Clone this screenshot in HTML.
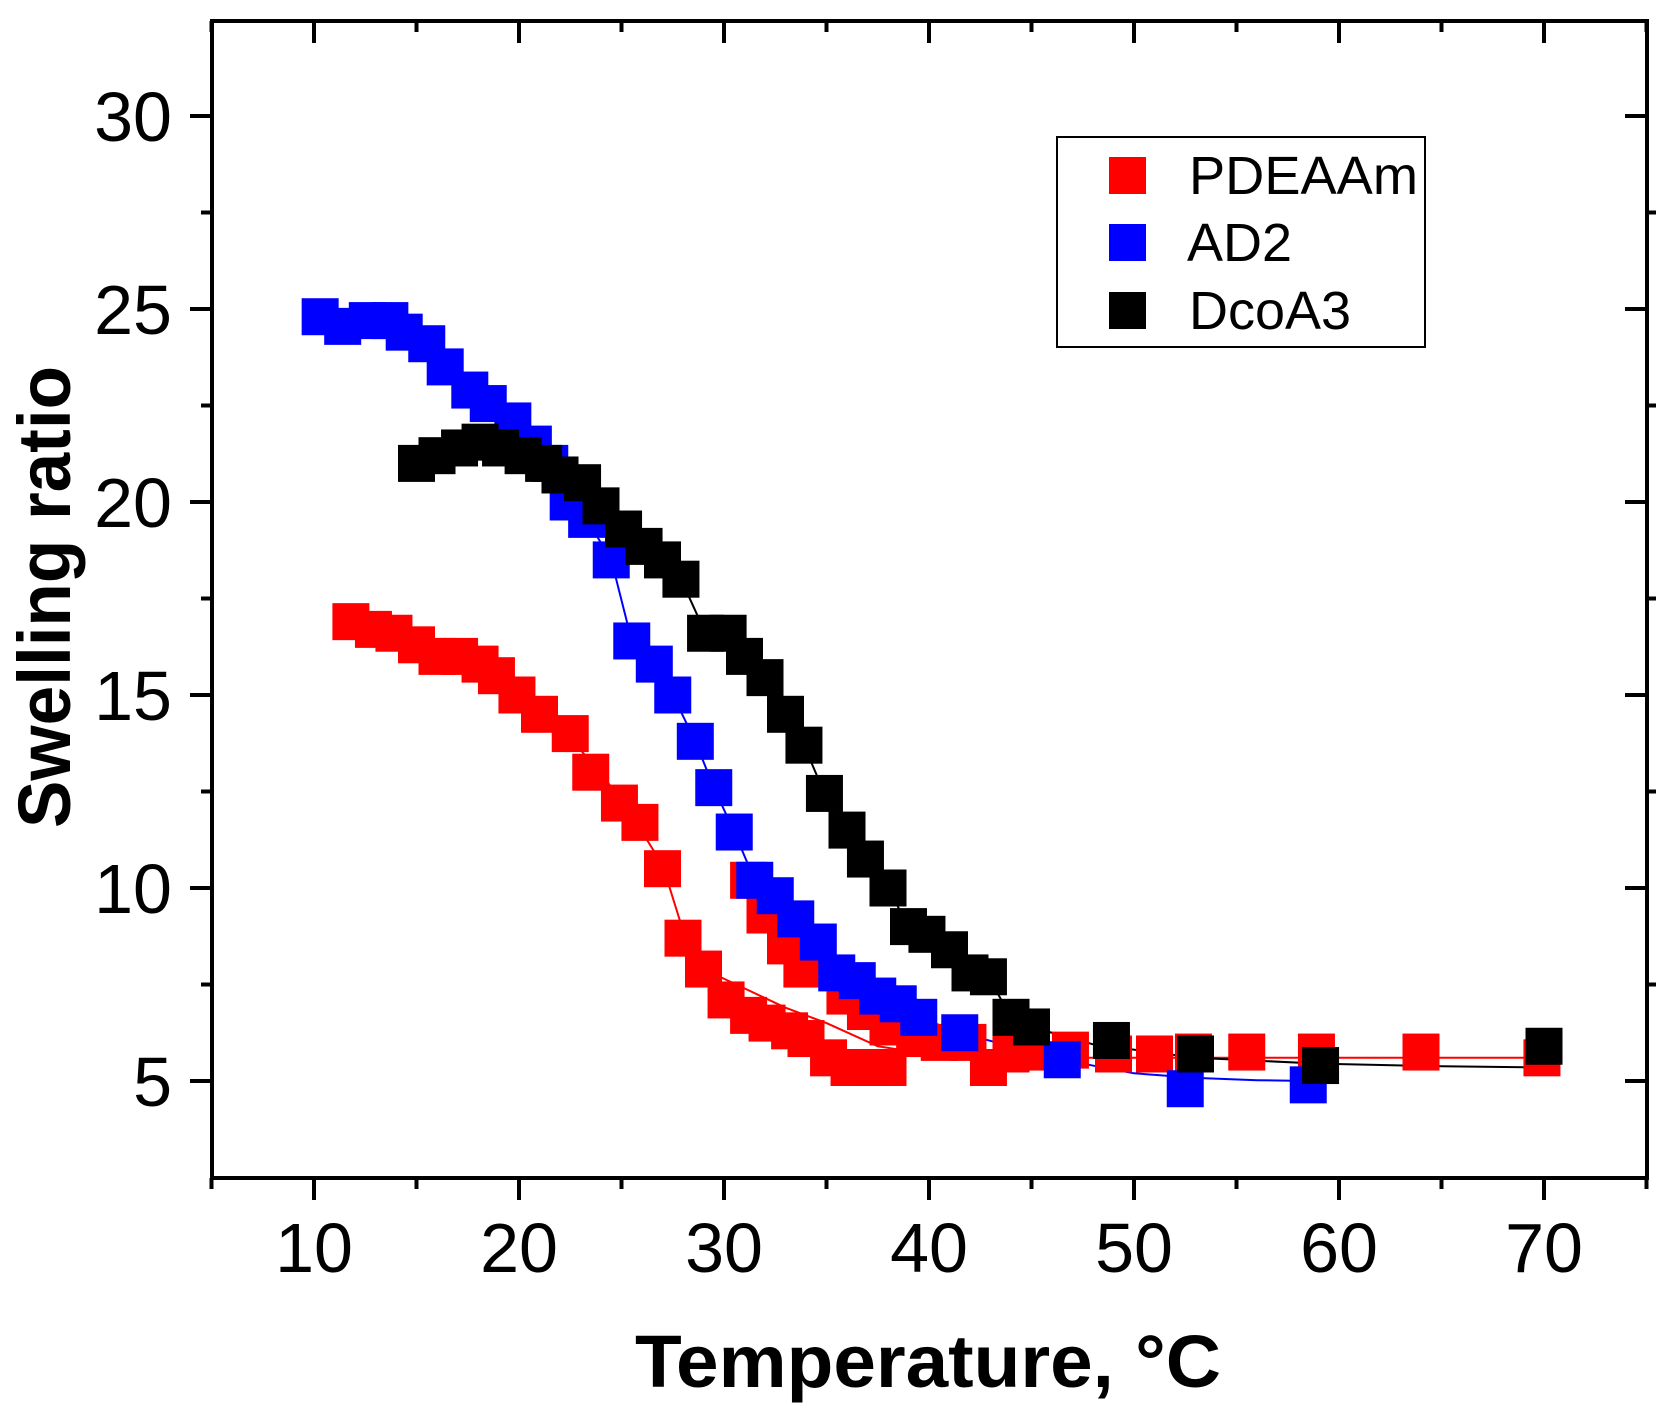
<!DOCTYPE html>
<html><head><meta charset="utf-8"><style>
html,body{margin:0;padding:0;background:#fff;}
svg{display:block;font-family:"Liberation Sans",Arial,sans-serif;}
</style></head><body>
<svg id="chart" width="1677" height="1419" viewBox="0 0 1677 1419" xmlns="http://www.w3.org/2000/svg">
<rect width="1677" height="1419" fill="#fff"/>
<g id="lines"></g>
<g id="marks"></g>
<g id="axes"></g>
<text x="0" y="0" transform="translate(70,597) rotate(-90)" text-anchor="middle" font-size="74" font-weight="bold" textLength="462" lengthAdjust="spacingAndGlyphs">Swelling ratio</text>
<text x="928" y="1387" text-anchor="middle" font-size="74" font-weight="bold" textLength="586" lengthAdjust="spacingAndGlyphs">Temperature, °C</text>
<g>
<rect x="1057" y="137" width="368" height="210" fill="#fff" stroke="#000" stroke-width="2"/>
<rect x="1109" y="157" width="37" height="37" fill="#ff0000"/>
<text x="1189" y="194" font-size="54" textLength="229" lengthAdjust="spacingAndGlyphs">PDEAAm</text>
<rect x="1109" y="224" width="37" height="37" fill="#0000ff"/>
<text x="1187" y="261" font-size="54">AD2</text>
<rect x="1109" y="292" width="37" height="37" fill="#000"/>
<text x="1189" y="329" font-size="54">DcoA3</text>
</g>
</svg>
<script>
const xTicks = [10, 20, 30, 40, 50, 60, 70];
const yTicks = [5, 10, 15, 20, 25, 30];
const pdeaamAT = [11.8,12.9,13.9,15.0,16.0,17.1,18.1,18.9,19.9,21.0,22.5,23.5,24.9,25.9,27.0,28.0,29.0,30.1,31.2,32.1,33.2,34.0,35.1,36.1,37.2,38.0];
const pdeaamAV = [16.9,16.7,16.6,16.3,16.0,16.0,15.8,15.5,15.0,14.5,14.0,13.0,12.2,11.7,10.5,8.7,7.9,7.1,6.7,6.5,6.3,6.1,5.6,5.35,5.35,5.35];
const pdeaamBT = [31.2,32.0,33.0,33.8,35.9,36.9,38.0,39.3,40.5,41.9,42.9,44.0,45.0,46.9,49.0,51.0,52.9,55.5,58.9,64.0,69.9];
const pdeaamBV = [10.2,9.3,8.5,7.9,7.2,6.8,6.4,6.1,6.0,6.0,5.35,5.7,5.75,5.8,5.7,5.7,5.75,5.75,5.75,5.75,5.6];
const pdeaamFitT = [11.8,15.0,18.0,20.0,22.5,25.0,27.0,28.0,29.0,31.0,33.0,35.0,37.5,40,45,50,60,70];
const pdeaamFitV = [16.9,16.3,15.7,14.8,13.9,12.3,10.6,8.9,7.9,7.4,6.9,6.5,5.9,5.7,5.6,5.6,5.6,5.6];
const ad2T = [10.3,11.4,12.6,13.7,14.4,15.5,16.4,17.6,18.5,19.7,20.7,21.5,22.4,23.3,24.5,25.5,26.6,27.5,28.6,29.5,30.5,31.5,32.5,33.5,34.6,35.5,36.5,37.5,38.5,39.5,41.5,46.5,52.5,58.5];
const ad2V = [24.8,24.55,24.7,24.7,24.4,24.1,23.5,22.9,22.55,22.1,21.5,21.0,20.0,19.55,18.5,16.4,15.8,15.0,13.8,12.6,11.45,10.2,9.8,9.2,8.6,7.8,7.6,7.2,7.0,6.65,6.25,5.55,4.8,4.9];
const ad2FitTailT = [50, 53, 56, 58.5];
const ad2FitTailV = [5.2, 5.08, 5.02, 5.0];
const dcoaT = [15.0,16.0,17.1,18.1,19.1,20.2,21.2,22.0,23.1,24.0,25.1,26.1,27.0,27.9,29.1,30.2,31.0,32.0,33.0,33.9,34.9,36.0,36.9,38.0,39.0,39.9,41.0,42.0,42.9,44.0,45.0,48.9,53.0,59.1,70.0];
const dcoaV = [21.0,21.2,21.4,21.55,21.4,21.2,21.0,20.7,20.5,19.9,19.3,18.85,18.5,18.0,16.6,16.6,16.0,15.45,14.5,13.7,12.45,11.5,10.75,10.0,9.0,8.8,8.4,7.8,7.7,6.65,6.4,6.05,5.7,5.4,5.9];
const dcoaFitTailT = [48, 53, 59, 65, 70];
const dcoaFitTailV = [5.95, 5.6, 5.45, 5.38, 5.35];

const NS = 'http://www.w3.org/2000/svg';
const X0 = 212, X1 = 1647, Y0 = 21, Y1 = 1178;
const xs = t => 314 + (t - 10) * 20.5;
const ys = v => 116 + (30 - v) * 38.6;
function mk(tag, attrs, parent) {
  const e = document.createElementNS(NS, tag);
  for (const k in attrs) e.setAttribute(k, attrs[k]);
  parent.appendChild(e);
  return e;
}
const axes = document.getElementById('axes');
const lines = document.getElementById('lines');
const marks = document.getElementById('marks');

const frame = mk('rect', {x: X0, y: Y0, width: X1 - X0, height: Y1 - Y0, fill: 'none', stroke: '#000', 'stroke-width': 4}, axes);



for (let t = 5; t <= 75; t += 5) {
  const major = t % 10 === 0;
  const x = xs(t);
  const tb = mk('line', {x1: x, x2: x, y1: Y1, y2: Y1 + (major ? 22 : 11), stroke: '#000', 'stroke-width': 4}, axes);
  
  
  const tt = mk('line', {x1: x, x2: x, y1: Y0, y2: Y0 + (major ? 22 : 11), stroke: '#000', 'stroke-width': 4}, axes);
  
  
}
xTicks.forEach(t => {
  const lb = mk('text', {x: xs(t), y: 1272, 'text-anchor': 'middle', 'font-size': 70}, axes);
  
  
  lb.textContent = t;
});
for (let v = 5; v <= 30; v += 2.5) {
  const major = v % 5 === 0;
  const y = ys(v);
  const tl = mk('line', {x1: X0 - (major ? 22 : 11), x2: X0, y1: y, y2: y, stroke: '#000', 'stroke-width': 4}, axes);
  
  
  const tr = major
    ? mk('line', {x1: X1 - 22, x2: X1, y1: y, y2: y, stroke: '#000', 'stroke-width': 4}, axes)
    : mk('line', {x1: X1, x2: X1 + 9, y1: y, y2: y, stroke: '#000', 'stroke-width': 4}, axes);
  
  
}
yTicks.forEach(v => {
  const lb = mk('text', {x: 172, y: ys(v) + 25, 'text-anchor': 'end', 'font-size': 70}, axes);
  
  
  lb.textContent = v;
});

function poly(T, V, color, name) {
  const pts = T.map((t, i) => xs(t).toFixed(1) + ',' + ys(V[i]).toFixed(1)).join(' ');
  const p = mk('polyline', {points: pts, fill: 'none', stroke: color, 'stroke-width': 2}, lines);
  
  
}
function squares(T, V, color, name) {
  T.forEach((t, i) => {
    const r = mk('rect', {x: xs(t) - 18.5, y: ys(V[i]) - 18.5, width: 37, height: 37, fill: color}, marks);
    
    
  });
}
poly(pdeaamFitT, pdeaamFitV, '#ff0000', 'pdeaam-fit-line');
poly(pdeaamBT.slice(0, 7), pdeaamBV.slice(0, 7), '#ff0000', 'pdeaam-line-b');
poly(ad2T.slice(0, 32).concat(ad2FitTailT), ad2V.slice(0, 32).concat(ad2FitTailV), '#0000ff', 'ad2-line');
poly(dcoaT.slice(0, 31).concat(dcoaFitTailT), dcoaV.slice(0, 31).concat(dcoaFitTailV), '#000000', 'dcoa3-line');
squares(pdeaamAT, pdeaamAV, '#ff0000', 'pdeaam-point');
squares(pdeaamBT, pdeaamBV, '#ff0000', 'pdeaam-point');
squares(ad2T, ad2V, '#0000ff', 'ad2-point');
squares(dcoaT, dcoaV, '#000000', 'dcoa3-point');
</script>
</body></html>
